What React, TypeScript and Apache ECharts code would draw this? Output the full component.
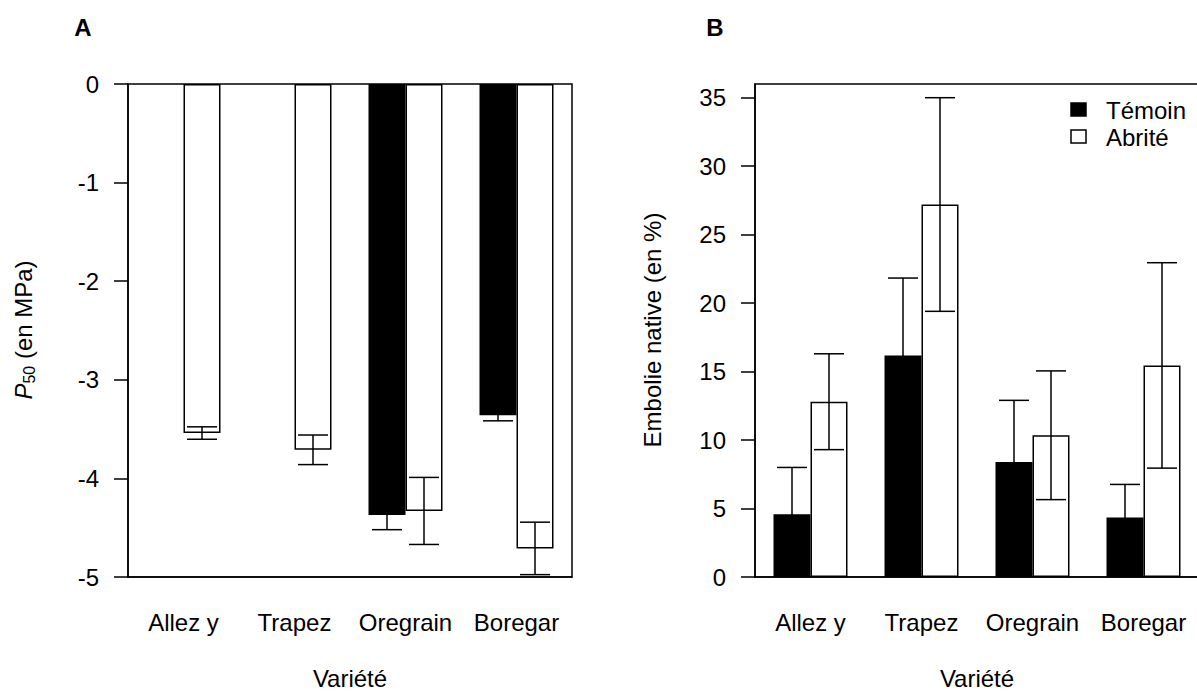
import React, { useEffect, useRef } from "react";
import * as echarts from "echarts";

const categories = ["Allez y", "Trapez", "Oregrain", "Boregar"];

// Panel A : P50 (MPa)
const p50Temoin = [null, null, -4.37, -3.36];
const p50TemoinErr = [null, null, 0.15, 0.056];
const p50Abrite = [-3.54, -3.71, -4.33, -4.71];
const p50AbriteErr = [0.063, 0.15, 0.34, 0.266];
const p50Ticks = [0, -1, -2, -3, -4, -5];

// Panel B : Embolie native (%)
const embTemoin = [4.58, 16.17, 8.4, 4.35];
const embTemoinErr = [3.42, 5.66, 4.5, 2.41];
const embAbrite = [12.8, 27.2, 10.35, 15.45];
const embAbriteErr = [3.5, 7.8, 4.7, 7.5];
const embTicks = [0, 5, 10, 15, 20, 25, 30, 35];

const seriesNames = ["Témoin", "Abrité"];

const FONT = "'Liberation Sans', Arial, Helvetica, sans-serif";
const FS = 24;
const LW = 1.5;

function errData(vals: (number | null)[], errs: (number | null)[]) {
  const out: number[][] = [];
  vals.forEach((v, i) => {
    const e = errs[i];
    if (v !== null && e !== null) out.push([i, v, e]);
  });
  return out;
}

function errSeries(data: number[][], side: number, axisIdx: number) {
  return {
    type: "custom",
    xAxisIndex: axisIdx,
    yAxisIndex: axisIdx,
    z: 10,
    clip: false,
    silent: true,
    data,
    encode: { x: 0, y: 1 },
    renderItem: (params: any, api: any) => {
      const cat = api.value(0);
      const v = api.value(1);
      const e = api.value(2);
      const band = api.size([1, 0])[0];
      const off = (side * band) / 6;
      const hi = api.coord([cat, v + e]);
      const lo = api.coord([cat, v - e]);
      const x = hi[0] + off;
      const cap = 15;
      const style = { stroke: "#000", lineWidth: LW, fill: null };
      return {
        type: "group",
        children: [
          { type: "line", shape: { x1: x, y1: hi[1], x2: x, y2: lo[1] }, style },
          { type: "line", shape: { x1: x - cap, y1: hi[1], x2: x + cap, y2: hi[1] }, style },
          { type: "line", shape: { x1: x - cap, y1: lo[1], x2: x + cap, y2: lo[1] }, style },
        ],
      };
    },
  };
}

function xAxisCfg(gridIndex: number) {
  return {
    type: "category",
    gridIndex,
    data: categories,
    axisLine: { show: true, onZero: false, lineStyle: { color: "#000", width: LW } },
    axisTick: { show: false },
    axisLabel: { color: "#000", fontSize: FS, fontFamily: FONT, margin: 33, interval: 0 },
    splitLine: { show: false },
    name: "Variété",
    nameLocation: "middle",
    nameGap: 89,
    nameTextStyle: { color: "#000", fontSize: FS, fontFamily: FONT },
  };
}

function yAxisCfg(gridIndex: number, min: number, max: number, ticks: number[]) {
  return {
    type: "value",
    gridIndex,
    min,
    max,
    interval: 1,
    axisLine: { show: true, lineStyle: { color: "#000", width: LW } },
    axisTick: { show: true, length: 14, customValues: ticks, lineStyle: { color: "#000", width: LW } },
    axisLabel: { color: "#000", fontSize: FS, fontFamily: FONT, margin: 29, customValues: ticks },
    splitLine: { show: false },
  };
}

const temoinStyle = { color: "#000", borderColor: "#000", borderWidth: LW };
const abriteStyle = { color: "#fff", borderColor: "#000", borderWidth: LW };

export default function App() {
  const ref = useRef<HTMLDivElement>(null);
  useEffect(() => {
    if (!ref.current) return;
    const chart = echarts.init(ref.current, null, { renderer: "svg" });
    const gridCommon = {
      top: 84,
      height: 493,
      width: 444,
      show: true,
      borderColor: "#000",
      borderWidth: LW,
      backgroundColor: "transparent",
      containLabel: false,
      outerBoundsMode: "none",
    };
    chart.setOption({
      animation: false,
      grid: [
        { ...gridCommon, left: 128 },
        { ...gridCommon, left: 755 },
      ],
      xAxis: [xAxisCfg(0), xAxisCfg(1)],
      yAxis: [yAxisCfg(0, -5, 0, p50Ticks), { ...yAxisCfg(1, 0, 36, embTicks), interval: 5 }],
      series: [
        { type: "bar", name: seriesNames[0], xAxisIndex: 0, yAxisIndex: 0, data: p50Temoin, barWidth: "33.333%", barGap: "0%", itemStyle: temoinStyle },
        { type: "bar", name: seriesNames[1], xAxisIndex: 0, yAxisIndex: 0, data: p50Abrite, barWidth: "33.333%", barGap: "0%", itemStyle: abriteStyle },
        { type: "bar", name: seriesNames[0], xAxisIndex: 1, yAxisIndex: 1, data: embTemoin, barWidth: "33.333%", barGap: "0%", itemStyle: temoinStyle },
        { type: "bar", name: seriesNames[1], xAxisIndex: 1, yAxisIndex: 1, data: embAbrite, barWidth: "33.333%", barGap: "0%", itemStyle: abriteStyle },
        errSeries(errData(p50Temoin, p50TemoinErr), -1, 0),
        errSeries(errData(p50Abrite, p50AbriteErr), 1, 0),
        errSeries(errData(embTemoin, embTemoinErr), -1, 1),
        errSeries(errData(embAbrite, embAbriteErr), 1, 1),
      ],
      graphic: [
        { type: "text", x: 83, y: 27, style: { text: "A", font: `bold 24px ${FONT}`, fill: "#000", align: "center", verticalAlign: "middle" } },
        { type: "text", x: 715, y: 27, style: { text: "B", font: `bold 24px ${FONT}`, fill: "#000", align: "center", verticalAlign: "middle" } },
        {
          type: "text",
          x: 23,
          y: 330,
          rotation: Math.PI / 2,
          style: {
            text: "{i|P}{s|50}{n| (en MPa)}",
            align: "center",
            verticalAlign: "middle",
            fill: "#000",
            rich: {
              i: { fontSize: FS, fontStyle: "italic", fontFamily: FONT, fill: "#000", lineHeight: 28 },
              s: { fontSize: 16, fontFamily: FONT, fill: "#000", verticalAlign: "bottom", lineHeight: 14 },
              n: { fontSize: FS, fontFamily: FONT, fill: "#000", lineHeight: 28 },
            },
          },
        },
        {
          type: "text",
          x: 652,
          y: 330,
          rotation: Math.PI / 2,
          style: { text: "Embolie native (en %)", fontSize: FS, fontFamily: FONT, fill: "#000", align: "center", verticalAlign: "middle" },
        },
        // legend
        { type: "rect", shape: { x: 1071, y: 103, width: 15, height: 13 }, style: { fill: "#000", stroke: "#000", lineWidth: LW } },
        { type: "rect", shape: { x: 1071, y: 130, width: 15, height: 13 }, style: { fill: "#fff", stroke: "#000", lineWidth: LW } },
        { type: "text", x: 1106, y: 110, style: { text: seriesNames[0], fontSize: FS, fontFamily: FONT, fill: "#000", align: "left", verticalAlign: "middle" } },
        { type: "text", x: 1106, y: 137, style: { text: seriesNames[1], fontSize: FS, fontFamily: FONT, fill: "#000", align: "left", verticalAlign: "middle" } },
      ],
    });
    return () => chart.dispose();
  }, []);
  return <div ref={ref} style={{ position: "absolute", left: 0, top: 0, width: 1197, height: 691, background: "#fff" }} />;
}
